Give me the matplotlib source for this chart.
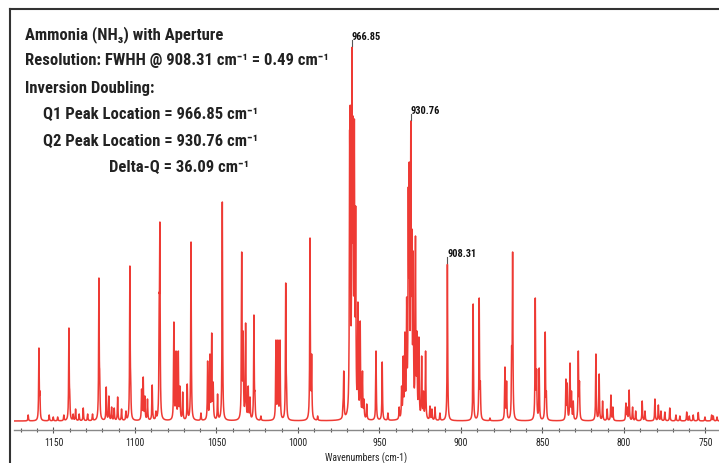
import numpy as np
import matplotlib
matplotlib.use('Agg')
import matplotlib.pyplot as plt
from matplotlib.ticker import MultipleLocator
from matplotlib.lines import Line2D

plt.rcParams['font.family'] = ['Liberation Sans Narrow', 'Roboto Condensed', 'Arial Narrow',
                               'DejaVu Sans']
plt.rcParams['font.stretch'] = 'condensed'

# line positions (cm-1) and heights
peak_pos = [1165.5, 1158.9, 1158.3, 1152.6, 1150.1, 1147.4, 1143.6, 1140.5, 1140.0,
            1137.9, 1136.4, 1134.2, 1131.7, 1129.0, 1126.0, 1122.1, 1121.6, 1117.6,
            1116.0, 1114.3, 1112.7, 1110.6, 1108.2, 1105.5, 1103.1, 1102.6, 1095.9,
            1094.9, 1093.9, 1092.3, 1089.4, 1087.1, 1085.1, 1084.7, 1076.1, 1074.8,
            1073.4, 1072.4, 1070.7, 1067.9, 1065.6, 1059.5, 1055.4, 1054.0, 1052.9,
            1052.0, 1049.3, 1046.4, 1034.5, 1033.6, 1032.1, 1030.5, 1029.4, 1027.0,
            1026.4, 1022.7, 1013.5, 1012.3, 1011.0, 1007.5, 1007.0, 992.6, 991.6,
            987.9, 972.3, 971.9, 968.3, 967.9, 966.85, 966.2, 965.4, 964.6, 963.2,
            961.8, 960.4, 959.5, 957.8, 952.1, 948.3, 944.8, 937.9, 936.4, 935.4,
            934.4, 933.3, 932.3, 931.7, 930.76, 930.1, 929.3, 927.9, 927.0, 925.8,
            924.1, 923.0, 921.7, 919.0, 917.8, 915.9, 912.9, 908.31, 892.5, 888.8,
            888.1, 882.2, 873.0, 872.0, 868.9, 868.3, 854.4, 853.6, 852.0, 848.3,
            847.6, 835.6, 834.8, 833.1, 832.2, 831.1, 828.0, 827.3, 817.2, 815.2,
            813.1, 810.3, 808.0, 806.8, 798.8, 798.0, 796.8, 794.7, 792.8, 788.8,
            787.1, 781.0, 778.9, 777.3, 774.9, 771.9, 768.1, 765.7, 761.5, 759.9,
            757.5, 754.4, 750.3, 746.2, 745.2, 742.9]
peak_height = [6, 73, 30, 6, 4, 4, 6, 93, 30,
               7, 12, 7, 13, 7, 7, 143, 50, 34,
               25, 14, 13, 24, 12, 10, 155, 45, 32,
               44, 25, 22, 36, 10, 126, 199, 99, 70,
               70, 35, 29, 37, 179, 8, 60, 67, 88,
               39, 27, 219, 169, 90, 98, 35, 24, 106,
               30, 5, 81, 81, 81, 138, 40, 183, 67,
               5, 20, 50, 289, 315, 374, 305, 302, 215, 119,
               100, 50, 22, 17, 70, 59, 8, 14, 35, 65,
               89, 124, 234, 259, 300, 192, 170, 185, 90, 84,
               65, 30, 70, 15, 12, 14, 8, 157, 117, 123,
               40, 3, 54, 40, 75, 169, 123, 52, 53, 89,
               30, 42, 38, 58, 30, 20, 70, 40, 67, 47,
               20, 12, 26, 14, 18, 14, 31, 14, 10, 20,
               10, 22, 16, 10, 9, 13, 6, 5, 9, 5,
               6, 8.5, 4, 6, 5, 4]

label_peaks = [966.85, 930.76, 908.31]

sup = '\u207b\u00b9'
info_lines = [
    'Ammonia (NH\u2083) with Aperture',
    'Resolution: FWHH @ 908.31 cm' + sup + ' = 0.49 cm' + sup,
    'Inversion Doubling:',
    'Q1 Peak Location = 966.85 cm' + sup,
    'Q2 Peak Location = 930.76 cm' + sup,
    'Delta-Q = 36.09 cm' + sup,
]
info_x = [25, 25, 25, 43, 43, 109]
info_y = [35, 61, 88, 115, 141, 167]

# Lorentzian line shape; amplitudes chosen so the curve reaches the read heights
gam = 0.2
pos = np.array(peak_pos)
hgt = np.array(peak_height, dtype=float)
A = gam**2 / ((pos[:, None] - pos[None, :])**2 + gam**2)
amp = np.clip(np.linalg.solve(A, hgt), 0, None)

wn = np.arange(741.0, 1176.0, 0.02)
spec = (amp[:, None] * gam**2 / ((wn[None, :] - pos[:, None])**2 + gam**2)).sum(axis=0)

W, H = 719, 464
fig = plt.figure(figsize=(W / 100, H / 100), dpi=100)
ax = fig.add_axes([14 / W, (H - 431) / H, (W - 14) / W, (431 - 10) / H])

ax.plot(wn, spec, color='#ee3a34', lw=1.1)
ax.set_xlim(1174.2, 741.7)
ax.set_ylim(-9, 412)

for p in label_peaks:
    m = (wn > p - 0.3) & (wn < p + 0.3)
    top = spec[m].max()
    ax.plot([p, p], [top + 1, top + 7], color='#555555', lw=0.8)
    ax.text(p, top + 6, f'{p:.2f}', ha='left', va='bottom', fontsize=7.5,
            fontweight='bold', color='#111111')

for s in ['top', 'right', 'left']:
    ax.spines[s].set_visible(False)
ax.spines['bottom'].set_color('#888888')
ax.spines['bottom'].set_linewidth(1.0)
ax.set_yticks([])
ax.set_xticks(np.arange(750, 1151, 50))
ax.xaxis.set_minor_locator(MultipleLocator(10))
ax.tick_params(axis='x', which='major', direction='inout', length=4, width=0.8,
               color='#555555', labelsize=7, pad=3, labelcolor='#222222')
ax.tick_params(axis='x', which='minor', direction='inout', length=3, width=0.8,
               color='#555555')
ax.set_xlabel('Wavenumbers (cm-1)', fontsize=7, labelpad=3, color='#222222')

for t, x, y in zip(info_lines, info_x, info_y):
    fig.text(x / W, 1 - y / H, t, ha='left', va='center', fontsize=12,
             fontweight='bold', color='#222222')

# outer frame
fig.add_artist(Line2D([10 / W, 10 / W], [0, 1 - 10 / H], color='#333333', lw=1.5))
fig.add_artist(Line2D([10 / W, 1], [1 - 10 / H, 1 - 10 / H], color='#333333', lw=1.5))

fig.savefig('out.png', dpi=100)
